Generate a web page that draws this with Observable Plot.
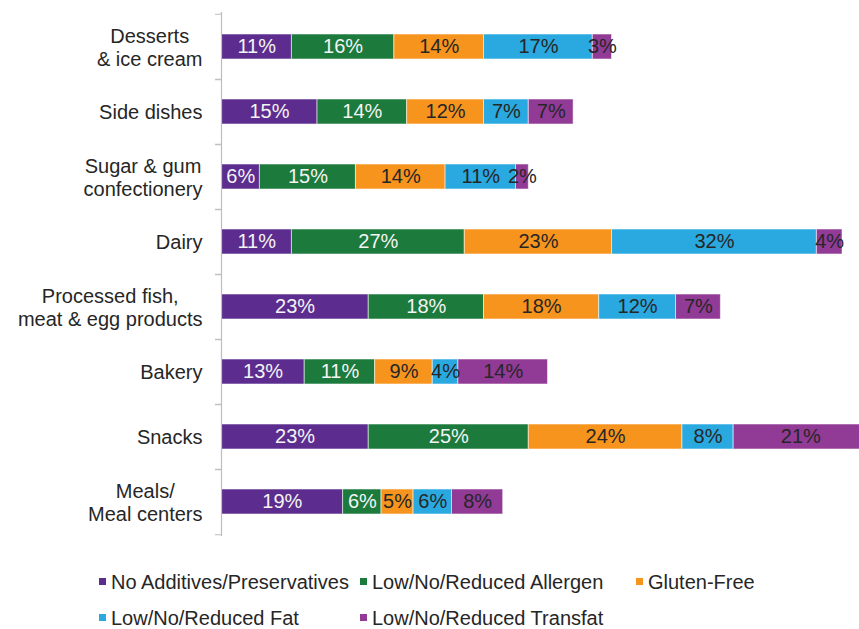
<!DOCTYPE html>
<html>
<head>
<meta charset="utf-8">
<script src="https://cdn.jsdelivr.net/npm/d3@7"></script>
<script src="https://cdn.jsdelivr.net/npm/@observablehq/plot@0.6"></script>
<style>
  html, body { margin: 0; padding: 0; background: #fff; }
  #wrap { position: relative; width: 859px; height: 629px; overflow: hidden; font-family: "Liberation Sans", Arial, sans-serif; }
  #chart svg { display: block; }
  .lg { position: absolute; font-size: 20px; color: #262626; white-space: nowrap; line-height: 18px; height: 18px; }
  .lg i { display: inline-block; width: 7px; height: 7px; margin-right: 5px; vertical-align: middle; position: relative; top: -2px; }
</style>
</head>
<body>
<div id="wrap"><div id="chart"></div><div id="legend"></div></div>
<script>
const categories = [
  "Desserts\n& ice cream",
  "Side dishes",
  "Sugar & gum\nconfectionery",
  "Dairy",
  "Processed fish,\nmeat & egg products",
  "Bakery",
  "Snacks",
  "Meals/\nMeal centers"
];
const seriesNames = [
  "No Additives/Preservatives",
  "Low/No/Reduced Allergen",
  "Gluten-Free",
  "Low/No/Reduced Fat",
  "Low/No/Reduced Transfat"
];
const noAdditives = [11, 15, 6, 11, 23, 13, 23, 19];
const allergen    = [16, 14, 15, 27, 18, 11, 25, 6];
const glutenFree  = [14, 12, 14, 23, 18, 9, 24, 5];
const lowFat      = [17, 7, 11, 32, 12, 4, 8, 6];
const transfat    = [3, 7, 2, 4, 7, 14, 21, 8];
const seriesColors = ["#5c2d8e", "#1b7a3c", "#f7941d", "#29a9e0", "#913b96"];
const lightLabel = [true, true, false, false, false];

const seriesValues = [noAdditives, allergen, glutenFree, lowFat, transfat];
const data = [];
categories.forEach((c, i) => {
  seriesNames.forEach((s, j) => {
    data.push({category: c, series: s, value: seriesValues[j][i], light: lightLabel[j]});
  });
});

const W = 859, H = 545, mTop = 12, mBottom = 9;
const step = (H - mTop - mBottom) / categories.length;
const FONT = "20px 'Liberation Sans', Arial, sans-serif";
const ctx = document.createElement("canvas").getContext("2d");
ctx.font = FONT;
const blockWidth = s => Math.max(...s.split("\n").map(l => ctx.measureText(l).width));
const labelPad = 19;

// Category labels: lines centred on each other, block right-aligned to the axis
const labelMarks = categories.map(c =>
  Plot.text([c], {
    y: d => d, text: d => d, frameAnchor: "left", textAnchor: "middle",
    dx: -(labelPad + blockWidth(c) / 2), lineHeight: 1.15, fontSize: 20, fill: "#262626"
  })
);

const plot = Plot.plot({
  width: W,
  height: H,
  marginLeft: 221,
  marginRight: 17,
  marginTop: mTop,
  marginBottom: mBottom,
  style: {fontFamily: "Liberation Sans, Arial, sans-serif", fontSize: "20px", overflow: "hidden"},
  x: {domain: [0, 97], axis: null},
  y: {domain: categories, paddingInner: 0.62, paddingOuter: 0.31, label: null, axis: null},
  color: {domain: seriesNames, range: seriesColors},
  marks: [
    Plot.barX(data, {x: "value", y: "category", fill: "series", stroke: "#ffffff", strokeWidth: 1, strokeOpacity: 0.55}),
    Plot.text(data, Plot.stackX({x: "value", y: "category", z: "series",
      text: d => d.light ? d.value + "%" : null, fill: "#f4f4f4", fontSize: 20})),
    Plot.text(data, Plot.stackX({x: "value", y: "category", z: "series",
      text: d => d.light ? null : d.value + "%", fill: "#262626", fontSize: 20})),
    Plot.ruleX([0], {stroke: "#bdbdbd", strokeWidth: 1.2}),
    Plot.axisY({tickSize: 6, tickFormat: () => "", dy: step / 2, stroke: "#bdbdbd"}),
    Plot.axisY({tickSize: 6, tickFormat: () => "", dy: -step / 2, stroke: "#bdbdbd"}),
    ...labelMarks
  ]
});
document.getElementById("chart").appendChild(plot);

// legend built from the same series arrays
const legendPos = [
  {x: 99, y: 573}, {x: 360, y: 573}, {x: 636, y: 573},
  {x: 99, y: 609}, {x: 360, y: 609}
];
const lg = document.getElementById("legend");
seriesNames.forEach((s, j) => {
  const el = document.createElement("div");
  el.className = "lg";
  el.style.left = legendPos[j].x + "px";
  el.style.top = legendPos[j].y + "px";
  el.innerHTML = `<i style="background:${seriesColors[j]}"></i>${s}`;
  lg.appendChild(el);
});
</script>
</body>
</html>
